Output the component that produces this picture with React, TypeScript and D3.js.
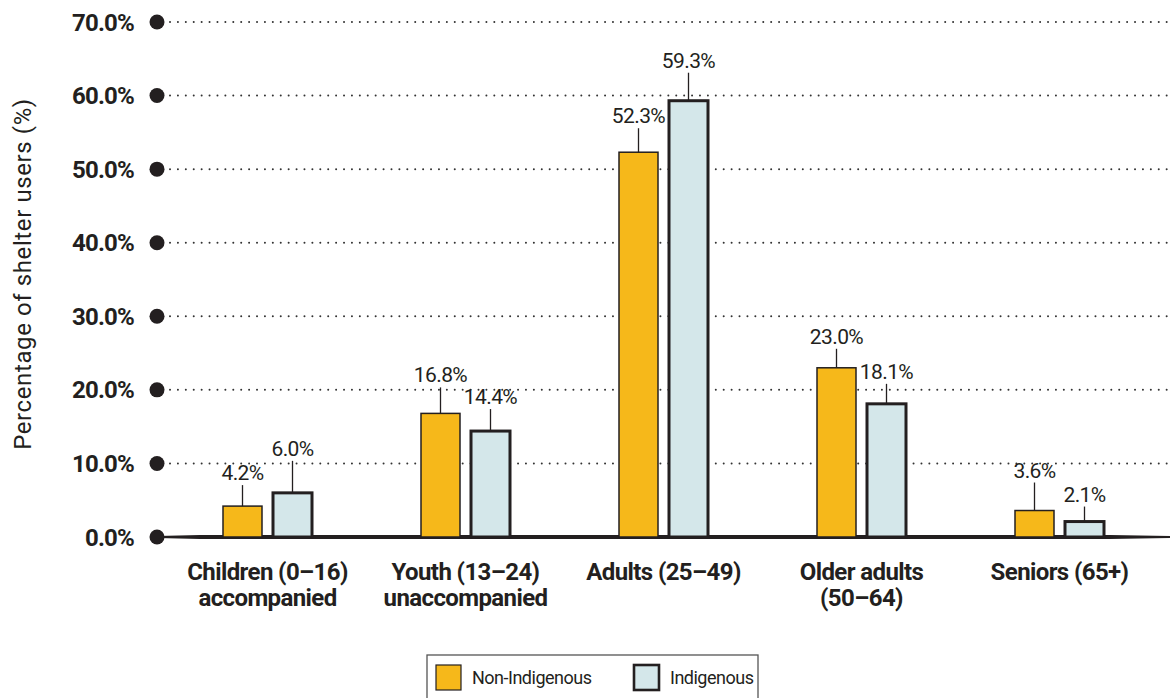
import React from "react";
import * as d3 from "d3";

const categories: string[][] = [
  ["Children (0–16)", "accompanied"],
  ["Youth (13–24)", "unaccompanied"],
  ["Adults (25–49)"],
  ["Older adults", "(50–64)"],
  ["Seniors (65+)"],
];
const nonIndigenous = [4.2, 16.8, 52.3, 23.0, 3.6];
const indigenous = [6.0, 14.4, 59.3, 18.1, 2.1];
const seriesNames = ["Non-Indigenous", "Indigenous"];
const yTicks = [0, 10, 20, 30, 40, 50, 60, 70];
// leader line lengths (layout)
const leaderNon = [21, 26, 24, 19, 28];
const leaderInd = [32, 22, 28, 20, 15];

const W = 1170;
const H = 698;
const ORANGE = "#F6B81A";
const BLUE = "#D4E7EA";
const DARK = "#231f20";

export default function App() {
  const y = d3.scaleLinear().domain([0, 70]).range([537, 22]);
  const x0 = d3
    .scaleBand<number>()
    .domain(categories.map((_, i) => i))
    .range([168.5, 1158.5]);
  const barW = 39;
  const gap = 11;
  const step = x0.step();

  const series = [
    { name: seriesNames[0], values: nonIndigenous, fill: ORANGE, sw: 1.5, leader: leaderNon, dx: -(gap / 2 + barW / 2) },
    { name: seriesNames[1], values: indigenous, fill: BLUE, sw: 3, leader: leaderInd, dx: gap / 2 + barW / 2 },
  ];

  const fmt = (v: number) => v.toFixed(1) + "%";

  return (
    <svg width={W} height={H} style={{ display: "block", position: "absolute", left: 0, top: 0 }}>
      {/* gridlines */}
      {yTicks.map((t) => (
        <g key={t}>
          {t > 0 && (
            <line
              x1={170}
              x2={W}
              y1={y(t)}
              y2={y(t)}
              stroke="#333"
              strokeWidth={2}
              strokeDasharray="0.01,7.9"
              strokeLinecap="round"
            />
          )}
          <circle cx={157} cy={y(t)} r={7.5} fill={DARK} />
          <text
            x={134}
            y={y(t) + 8.5}
            textAnchor="end"
            fontFamily="Roboto, sans-serif"
            fontWeight={700}
            fontSize={24}
            letterSpacing={-0.8}
            fill={DARK}
          >
            {fmt(t)}
          </text>
        </g>
      ))}
      {/* baseline */}
      <path
        d={`M157,${y(0) - 1} L200,${y(0) - 2} L${W - 60},${y(0) - 2} L${W},${y(0) - 1} L${W},${y(0) + 1} L${W - 60},${y(0) + 2} L200,${y(0) + 2} L157,${y(0) + 1} Z`}
        fill={DARK}
      />
      {/* bars */}
      {series.map((s, si) =>
        s.values.map((v, i) => {
          const cx = (x0(i) as number) + step / 2 + s.dx;
          const top = y(v);
          const lx = cx;
          return (
            <g key={`${si}-${i}`}>
              <rect
                x={cx - barW / 2}
                y={top}
                width={barW}
                height={y(0) - top}
                fill={s.fill}
                stroke={DARK}
                strokeWidth={s.sw}
              />
              <line x1={lx} x2={lx} y1={top} y2={top - s.leader[i]} stroke={DARK} strokeWidth={1.3} />
              <text
                x={lx}
                y={top - s.leader[i] - 5}
                textAnchor="middle"
                fontFamily="Roboto, sans-serif"
                fontSize={21}
                letterSpacing={-0.6}
                fill={DARK}
              >
                {fmt(v)}
              </text>
            </g>
          );
        })
      )}
      {/* category labels */}
      {categories.map((lines, i) => (
        <text
          key={i}
          x={(x0(i) as number) + step / 2}
          y={580}
          textAnchor="middle"
          fontFamily="Roboto, sans-serif"
          fontWeight={700}
          fontSize={24}
          letterSpacing={-0.6}
          fill={DARK}
        >
          {lines.map((l, j) => (
            <tspan key={j} x={(x0(i) as number) + step / 2} dy={j === 0 ? 0 : 26}>
              {l}
            </tspan>
          ))}
        </text>
      ))}
      {/* y-axis title */}
      <text
        transform={`translate(31,${274}) rotate(-90)`}
        textAnchor="middle"
        fontFamily="Roboto, sans-serif"
        fontSize={24}
        letterSpacing={0.6}
        fill={DARK}
      >
        Percentage of shelter users (%)
      </text>
      {/* legend */}
      <rect x={427} y={655} width={331} height={50} fill="none" stroke="#555" strokeWidth={1.3} />
      <rect x={436} y={665} width={25} height={25} fill={ORANGE} stroke={DARK} strokeWidth={1.2} />
      <text x={472} y={684} fontFamily="Roboto, sans-serif" fontSize={18} letterSpacing={-0.5} fill={DARK}>
        {seriesNames[0]}
      </text>
      <rect x={634} y={665} width={25} height={25} fill={BLUE} stroke={DARK} strokeWidth={2.6} />
      <text x={670} y={684} fontFamily="Roboto, sans-serif" fontSize={18} letterSpacing={-0.5} fill={DARK}>
        {seriesNames[1]}
      </text>
    </svg>
  );
}
